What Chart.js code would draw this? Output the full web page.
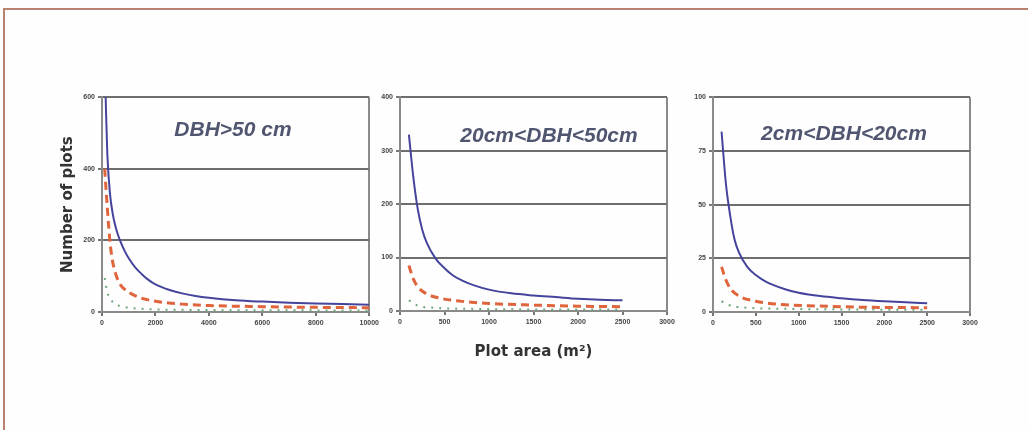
<!DOCTYPE html>
<html>
<head>
<meta charset="utf-8">
<script src="https://cdn.jsdelivr.net/npm/chart.js@4.4.1/dist/chart.umd.min.js"></script>
<style>
  body { margin: 0; background: #fefefe; width: 1028px; height: 430px; overflow: hidden; position: relative; font-family: Arial, "Liberation Sans", sans-serif; }
  .frame { position: absolute; left: 3px; top: 8px; width: 1100px; height: 500px; border-top: 2px solid #b8826f; border-left: 2px solid #b8826f; }
  .box { position: absolute; }
  .label { position: absolute; transform: translate(-50%, -50%); font-style: italic; font-weight: bold; font-size: 21px; color: #515670; white-space: nowrap; }
</style>
</head>
<body>
<div class="frame"></div>
<div class="box" style="left:55px;top:90px;width:327px;height:250px"><canvas id="c1"></canvas></div>
<div class="box" style="left:370px;top:90px;width:309px;height:275px"><canvas id="c2"></canvas></div>
<div class="box" style="left:683px;top:90px;width:299px;height:250px"><canvas id="c3"></canvas></div>
<div class="label" style="left:233px;top:129px">DBH&gt;50 cm</div>
<div class="label" style="left:549px;top:135px">20cm&lt;DBH&lt;50cm</div>
<div class="label" style="left:844px;top:133px">2cm&lt;DBH&lt;20cm</div>
<script>
// Panel 1: DBH > 50 cm
const p1BlueX = [100, 150, 200, 300, 400, 500, 600, 700, 850, 1000, 1250, 1500, 1750, 2000, 2500, 3000, 3500, 4000, 5000, 6000, 7000, 8000, 9000, 10000];
const p1BlueY = [720, 560, 440, 330, 275, 240, 215, 195, 170, 150, 124, 105, 89, 77, 62, 52, 45, 40, 33, 29, 26, 24, 22, 20];
const p1RedX = [100, 200, 300, 400, 550, 700, 850, 1000, 1250, 1500, 2000, 2500, 3000, 4000, 6000, 8000, 10000];
const p1RedY = [400, 290, 195, 140, 98, 75, 63, 55, 45, 38, 30, 25, 22, 18, 15, 13, 12];
const p1GreenX = [100, 200, 400, 800, 1500, 3000, 6000, 10000];
const p1GreenY = [95, 55, 28, 15, 9, 6, 5, 4];

// Panel 2: 20cm < DBH < 50cm
const p2BlueX = [100, 150, 200, 250, 300, 400, 500, 600, 700, 850, 1000, 1250, 1500, 1750, 2000, 2250, 2500];
const p2BlueY = [330, 250, 190, 152, 128, 98, 80, 66, 57, 47, 40, 33, 29, 26, 23, 21, 20];
const p2RedX = [100, 150, 200, 300, 450, 700, 1000, 1500, 2000, 2500];
const p2RedY = [85, 60, 45, 32, 24, 18, 14, 11, 9, 8];
const p2GreenX = [100, 200, 400, 800, 1500, 2500];
const p2GreenY = [20, 10, 6, 4, 3, 3];

// Panel 3: 2cm < DBH < 20cm
const p3BlueX = [100, 150, 200, 250, 300, 400, 500, 600, 700, 850, 1000, 1250, 1500, 1750, 2000, 2250, 2500];
const p3BlueY = [84, 60, 45, 34, 28, 21, 17.2, 14.5, 12.6, 10.5, 9, 7.4, 6.4, 5.6, 5, 4.5, 4.1];
const p3RedX = [100, 150, 200, 300, 500, 800, 1200, 1800, 2500];
const p3RedY = [21, 15, 11, 7.5, 5, 3.5, 2.8, 2.2, 2];
const p3GreenX = [100, 200, 400, 800, 1500, 2500];
const p3GreenY = [5, 3, 2, 1.5, 1.2, 1];

// axis ranges
const xMax1 = 10000, xStep1 = 2000, yMax1 = 600, yStep1 = 200;
const xMax2 = 3000, xStep2 = 500, yMax2 = 400, yStep2 = 100;
const xMax3 = 3000, xStep3 = 500, yMax3 = 100, yStep3 = 25;

const yTitle = "Number of plots";
const xTitle = "Plot area (m²)";

function pts(xs, ys) {
  return xs.map((x, i) => ({ x: x, y: ys[i] }));
}

function makeChart(id, blue, red, green, xMax, xStep, yMax, yStep, opt) {
  const tickFont = { size: 7, weight: "bold", family: "Arial" };
  const titleFont = { size: 15, weight: "bold", family: "DejaVu Sans" };
  new Chart(document.getElementById(id), {
    type: "line",
    data: {
      datasets: [
        { data: pts(blue[0], blue[1]), borderColor: "#45449c", borderWidth: 2, pointRadius: 0, cubicInterpolationMode: "monotone" },
        { data: pts(red[0], red[1]), borderColor: "#e0643c", borderWidth: 3, borderDash: [8, 5], pointRadius: 0, cubicInterpolationMode: "monotone" },
        { data: pts(green[0], green[1]), borderColor: "#6aa87c", borderWidth: 2, borderDash: [2, 6], pointRadius: 0, cubicInterpolationMode: "monotone" },
      ],
    },
    options: {
      responsive: true,
      maintainAspectRatio: false,
      animation: false,
      layout: { padding: { top: 6, right: opt.padRight, left: 0, bottom: 0 } },
      plugins: { legend: { display: false }, tooltip: { enabled: false } },
      scales: {
        x: {
          type: "linear",
          min: 0,
          max: xMax,
          ticks: { stepSize: xStep, color: "#444", font: tickFont, maxRotation: 0, padding: 3, callback: (v) => String(v) },
          grid: {
            color: (c) => (c.tick && c.tick.value === xMax ? "#8a8a8a" : "rgba(0,0,0,0)"),
            lineWidth: 2,
            tickColor: "#777",
            tickLength: 4,
          },
          border: { color: "#8a8a8a", width: 2 },
          title: opt.xTitle
            ? { display: true, text: opt.xTitle, color: "#333", font: titleFont, padding: { top: 4, bottom: 4 } }
            : { display: false },
          afterFit: (s) => { s.height = opt.xHeight; },
        },
        y: {
          min: 0,
          max: yMax,
          ticks: { stepSize: yStep, color: "#444", font: tickFont, padding: 3, callback: (v) => String(v) },
          grid: { color: "#6e6e6e", lineWidth: 2, tickColor: "#777", tickLength: 4 },
          border: { color: "#8a8a8a", width: 2 },
          title: opt.yTitle
            ? { display: true, text: opt.yTitle, color: "#333", font: titleFont, padding: { top: 4, bottom: 2 } }
            : { display: false },
          afterFit: (s) => { s.width = opt.yWidth; },
        },
      },
    },
  });
}

makeChart("c1", [p1BlueX, p1BlueY], [p1RedX, p1RedY], [p1GreenX, p1GreenY], xMax1, xStep1, yMax1, yStep1,
  { padRight: 12, xHeight: 28, yWidth: 47, yTitle: yTitle });
makeChart("c2", [p2BlueX, p2BlueY], [p2RedX, p2RedY], [p2GreenX, p2GreenY], xMax2, xStep2, yMax2, yStep2,
  { padRight: 12, xHeight: 54, yWidth: 30, xTitle: xTitle });
makeChart("c3", [p3BlueX, p3BlueY], [p3RedX, p3RedY], [p3GreenX, p3GreenY], xMax3, xStep3, yMax3, yStep3,
  { padRight: 12, xHeight: 28, yWidth: 30 });
</script>
</body>
</html>
